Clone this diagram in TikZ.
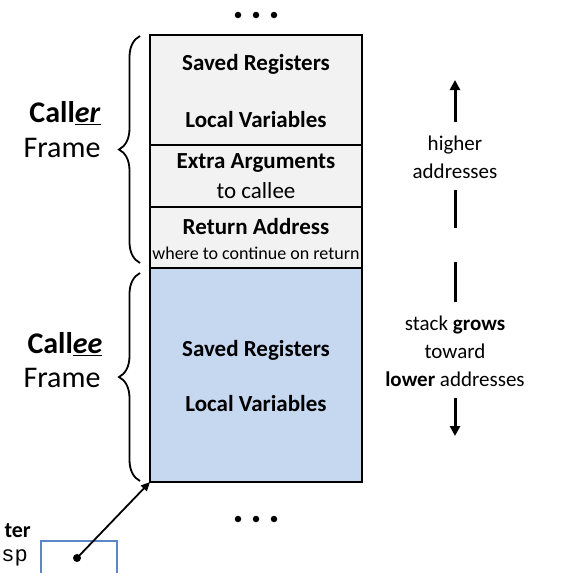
\documentclass[tikz,border=0pt]{standalone}
\usepackage{fontspec}
\setmainfont{Carlito}
\setmonofont{Liberation Mono}
\usetikzlibrary{arrows.meta,decorations.pathreplacing}
\definecolor{slotgray}{HTML}{F2F2F2}
\definecolor{slotblue}{HTML}{C6D8EF}
\definecolor{regblue}{HTML}{5B87C5}
\tikzset{
  slot/.style={draw=black, line width=2.4pt, fill=slotgray},
  calleeslot/.style={draw=black, line width=2.4pt, fill=slotblue},
  frametag/.style={inner sep=0pt, font=\fontsize{30}{32}\selectfont},
  slothead/.style={inner sep=0pt, font=\fontsize{23}{25}\selectfont\bfseries},
  slotnote/.style={inner sep=0pt, font=\fontsize{23}{25}\selectfont},
  slotsmall/.style={inner sep=0pt, font=\fontsize{18}{20}\selectfont},
  dirtext/.style={inner sep=0pt, font=\fontsize{21}{23}\selectfont},
  framebrace/.style={decorate, decoration={brace, amplitude=21pt}, line width=1.8pt},
  dirline/.style={line width=3pt},
  dot/.style={circle, fill=black, inner sep=0pt, minimum size=6.5pt},
}
\begin{document}
\begin{tikzpicture}[x=1pt,y=-1pt]
\useasboundingbox (0,0) rectangle (561,573);

% stack slots
\path[slot] (150,35) rectangle (362,145);
\path[slot] (150,145) rectangle (362,207);
\path[slot] (150,207) rectangle (362,268);
\path[calleeslot] (150,268) rectangle (362,482);
\coordinate (stackbottom) at (150,482);

\node[slothead] (sr1) at (256,64) {Saved Registers};
\node[slothead] (lv1) at (256,120) {Local Variables};
\node[slothead] (ea) at (256,163) {Extra Arguments};
\node[slotnote] (eanote) at (256,191) {to callee};
\node[slothead] (ra) at (256,227) {Return Address};
\node[slotsmall] (ranote) at (256,253) {where to continue on return};
\node[slothead] (sr2) at (256,350) {Saved Registers};
\node[slothead] (lv2) at (256,404) {Local Variables};

% ellipses above and below the stack
\foreach \x [count=\i] in {238,256,274} {
  \node[dot] (top\i) at (\x,15) {};
  \node[dot] (bot\i) at (\x,519) {};
}

% frame braces
\coordinate (crA) at (140,263);
\coordinate (crB) at (140,36);
\coordinate (ceA) at (140,481);
\coordinate (ceB) at (140,273);
\draw[framebrace] (crA) -- (crB);
\draw[framebrace] (ceA) -- (ceB);

\node[frametag] (callerA) at (65,113) {\textbf{Call\underline{\textit{er}}}};
\node[frametag] (callerB) at (62,148) {Frame};
\node[frametag] (calleeA) at (65,344) {\textbf{Call\underline{\textit{ee}}}};
\node[frametag] (calleeB) at (62,378) {Frame};

% direction indicators
\coordinate (upA) at (455,122);
\coordinate (upB) at (455,80);
\draw[dirline, -{Triangle[length=10pt,width=10pt]}] (upA) -- (upB);
\node[dirtext] (higherA) at (455,145) {higher};
\node[dirtext] (higherB) at (455,171) {addresses};
\coordinate (l1a) at (455,190);
\coordinate (l1b) at (455,228);
\draw[dirline] (l1a) -- (l1b);
\coordinate (l2a) at (455,262);
\coordinate (l2b) at (455,302);
\draw[dirline] (l2a) -- (l2b);
\node[dirtext] (growsA) at (455,325) {stack \textbf{grows}};
\node[dirtext] (growsB) at (455,351) {toward};
\node[dirtext] (growsC) at (455,379) {\textbf{lower} addresses};
\coordinate (dnA) at (455,398);
\coordinate (dnB) at (455,436);
\draw[dirline, -{Triangle[length=10pt,width=10pt]}] (dnA) -- (dnB);

% stack pointer register
\node[draw=regblue, line width=1.6pt, minimum width=76pt, minimum height=40pt, inner sep=0pt, anchor=north west] (spbox) at (40,540) {};
\node[inner sep=0pt, anchor=east, font=\fontsize{22}{24}\selectfont\ttfamily] (splabel) at (28,558) {sp};
\node[inner sep=0pt, anchor=east, font=\fontsize{22}{24}\selectfont\bfseries] (reglabel) at (31,531) {ter};
\node[dot, minimum size=8pt] (spdot) at (77,558) {};
\draw[line width=1.8pt, -{Triangle[length=9pt,width=8pt]}] (spdot.center) -- (stackbottom);
\end{tikzpicture}
\end{document}
